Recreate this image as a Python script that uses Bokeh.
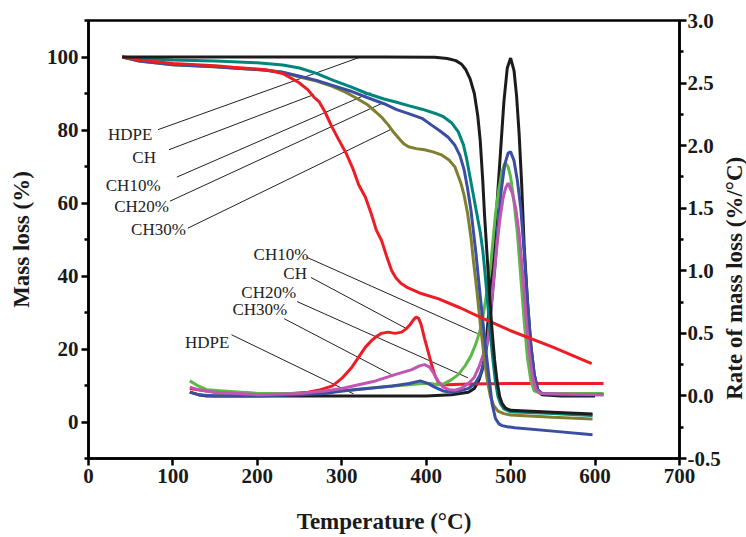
import math
from bokeh.plotting import figure
from bokeh.layouts import row
from bokeh.models import Range1d, LinearAxis, FixedTicker, NumeralTickFormatter
from bokeh.embed import file_html
from bokeh.resources import INLINE
from bokeh.core.properties import value

# ---------------- data: TGA (mass %, left axis) ----------------
hdpe_tga_T = [40, 100, 150, 250, 350, 410, 425, 435, 442, 447, 452, 457, 461, 464, 467, 469, 472, 475, 478, 481, 484, 487, 490, 494, 500, 550, 597]
hdpe_tga_m = [100, 100, 100, 100, 100, 99.9, 99.6, 99, 98, 96.5, 94, 90, 84, 77, 66, 57, 46, 35, 25, 17, 11, 7, 5, 3.8, 3.2, 2.7, 2.2]

ch_tga_T = [40, 60, 100, 150, 171, 210, 230, 249, 260, 267, 273, 280, 288, 296, 305, 313, 320, 328, 335, 341, 347, 353, 359, 364, 370, 378, 386, 394, 414, 440, 465, 500, 550, 596]
ch_tga_m = [100, 99.2, 98.2, 97.6, 97.2, 96.5, 95.5, 93, 91, 89, 87.8, 85, 81, 77.5, 73.7, 69.5, 65, 61.6, 57, 52.5, 49.8, 45.5, 41.5, 39.5, 38, 36.8, 36, 35.2, 33.8, 31.3, 28.6, 25, 20.5, 16]

ch10_tga_T = [40, 60, 100, 150, 200, 230, 250, 270, 290, 310, 330, 350, 365, 380, 395, 410, 420, 430, 438, 444, 448, 452, 456, 460, 464, 467, 470, 473, 476, 479, 482, 485, 488, 492, 500, 550, 597]
ch10_tga_m = [100, 99.6, 99.2, 98.9, 98.4, 97.8, 97, 95.5, 93.6, 91.9, 90, 88.5, 87.6, 86.6, 85.7, 84.6, 83.7, 82, 79.5, 76, 72, 67, 62, 57, 52, 47, 40, 32, 24, 17, 11, 7, 5, 3.6, 2.8, 2.3, 1.8]

ch20_tga_T = [40, 60, 100, 150, 171, 210, 230, 249, 270, 288, 310, 330, 350, 365, 380, 395, 406, 416, 426, 434, 440, 445, 449, 453, 456, 459, 462, 466, 470, 474, 478, 482, 486, 490, 496, 505, 550, 597]
ch20_tga_m = [100, 98.9, 97.9, 97.3, 97, 96.4, 95.8, 94.8, 93.6, 92.3, 90.7, 88.9, 87.2, 85.6, 84.4, 83.2, 81.4, 79.8, 78, 75.8, 73, 69, 64, 58, 52, 46, 39, 30, 21, 13, 5, 1, -0.5, -1, -1.3, -1.6, -2.5, -3.5]

ch30_tga_T = [40, 60, 100, 150, 171, 210, 230, 249, 270, 288, 305, 316, 330, 340, 348, 355, 361, 367, 373, 379, 388, 398, 408, 418, 427, 434, 441, 445, 449, 453, 456, 460, 464, 468, 472, 476, 480, 485, 492, 500, 550, 597]
ch30_tga_m = [100, 98.9, 97.9, 97.3, 97, 96.4, 95.8, 94.6, 93.4, 92, 90.3, 88.9, 87, 85, 83.3, 81.4, 79.5, 77.9, 76.3, 75.4, 74.9, 74.6, 74, 73.2, 71.8, 69.9, 65.5, 62, 57.2, 50.5, 44, 36, 27, 19, 12, 7, 4.5, 3, 2.3, 1.9, 1.3, 0.8]

# ---------------- data: DTG (%/oC, right axis) ----------------
hdpe_dtg_T = [120, 130, 140, 200, 300, 400, 430, 440, 450, 457, 462, 466, 469, 472, 476, 480, 484, 488, 492, 496, 500, 504, 507, 510, 513, 516, 520, 524, 528, 532, 537, 560, 600]
hdpe_dtg_r = [0.03, 0.01, 0.0, 0.0, 0.0, 0.0, 0.01, 0.02, 0.03, 0.06, 0.12, 0.2, 0.3, 0.5, 0.82, 1.18, 1.55, 1.95, 2.35, 2.62, 2.70, 2.6, 2.4, 2.1, 1.7, 1.2, 0.75, 0.4, 0.17, 0.05, 0.01, 0.0, 0.0]

ch_dtg_T = [120, 130, 150, 200, 240, 260, 275, 289, 300, 312, 320, 328, 335, 340, 347, 355, 363, 371, 377, 381, 385, 388, 391, 394, 398, 402, 406, 410, 414, 418, 425, 450, 500, 550, 610]
ch_dtg_r = [0.06, 0.05, 0.03, 0.02, 0.02, 0.03, 0.05, 0.08, 0.14, 0.23, 0.31, 0.39, 0.44, 0.47, 0.5, 0.51, 0.5, 0.51, 0.54, 0.57, 0.61, 0.63, 0.62, 0.57, 0.46, 0.36, 0.26, 0.17, 0.11, 0.09, 0.09, 0.095, 0.1, 0.1, 0.1]

ch10_dtg_T = [120, 130, 140, 160, 200, 250, 280, 300, 330, 360, 380, 395, 405, 415, 422, 430, 438, 446, 453, 459, 465, 470, 476, 482, 486, 489, 492, 494, 497, 500, 504, 508, 512, 516, 520, 524, 528, 535, 610]
ch10_dtg_r = [0.12, 0.08, 0.05, 0.04, 0.02, 0.02, 0.03, 0.04, 0.06, 0.08, 0.09, 0.1, 0.1, 0.09, 0.1, 0.13, 0.17, 0.24, 0.32, 0.42, 0.55, 0.75, 1.02, 1.45, 1.65, 1.77, 1.84, 1.86, 1.83, 1.75, 1.55, 1.3, 0.95, 0.6, 0.3, 0.12, 0.04, 0.02, 0.02]

ch20_dtg_T = [120, 130, 150, 200, 250, 280, 300, 330, 360, 380, 393, 402, 410, 420, 430, 440, 450, 458, 464, 469, 473, 477, 481, 485, 489, 493, 497, 500, 504, 508, 512, 516, 520, 524, 528, 532, 537, 560, 610]
ch20_dtg_r = [0.03, 0.01, 0.0, 0.0, 0.01, 0.02, 0.04, 0.06, 0.08, 0.1, 0.12, 0.1, 0.07, 0.04, 0.03, 0.04, 0.06, 0.1, 0.17, 0.28, 0.45, 0.7, 1.0, 1.35, 1.65, 1.85, 1.94, 1.95, 1.88, 1.72, 1.5, 1.15, 0.75, 0.4, 0.17, 0.05, 0.02, 0.01, 0.01]

ch30_dtg_T = [120, 130, 150, 200, 250, 280, 300, 320, 340, 363, 383, 392, 398, 404, 409, 414, 420, 427, 434, 441, 450, 457, 463, 469, 473, 479, 483, 487, 491, 494, 497, 502, 506, 510, 514, 518, 522, 526, 530, 535, 610]
ch30_dtg_r = [0.07, 0.05, 0.03, 0.01, 0.02, 0.04, 0.06, 0.09, 0.12, 0.17, 0.21, 0.24, 0.25, 0.23, 0.18, 0.12, 0.07, 0.05, 0.045, 0.06, 0.1, 0.15, 0.24, 0.36, 0.44, 0.87, 1.15, 1.4, 1.58, 1.66, 1.70, 1.62, 1.5, 1.3, 1.0, 0.65, 0.35, 0.15, 0.05, 0.02, 0.01]

# ---------------- axis ticks ----------------
x_ticks = [0, 100, 200, 300, 400, 500, 600, 700]
left_ticks = [0, 20, 40, 60, 80, 100]
left_minor = [-10, 10, 30, 50, 70, 90, 110]
right_ticks = [-0.5, 0.0, 0.5, 1.0, 1.5, 2.0, 2.5, 3.0]
right_minor = [-0.25, 0.25, 0.75, 1.25, 1.75, 2.25, 2.75]
right_title = "Rate of mass loss (%/°C)"

# ---------------- annotation labels (layout, in T / mass% coordinates) ----------------
tga_labels = ["HDPE", "CH", "CH10%", "CH20%", "CH30%"]
tga_label_xy = [(49.4, 78.8), (65.9, 72.4), (52.9, 64.9), (62.9, 59.1), (82.9, 52.8)]
tga_lead = [((82.4, 80.1), (323.5, 100.1)), ((95.3, 74.6), (267, 89.7)), ((104.7, 67.1), (334, 90.2)),
            ((96.5, 60.5), (349.4, 87.5)), ((117.6, 53.1), (357.6, 80.1))]

dtg_labels = ["CH10%", "CH", "CH20%", "CH30%", "HDPE"]
dtg_label_xy = [(228, 45.9), (244.7, 40.7), (213.5, 35.5), (203, 30.8), (140.6, 21.7)]
dtg_lead = [((258.8, 45.1), (461, 24.2)), ((263.5, 39.6), (376.5, 25.6)), ((247, 33), (449.4, 12.1)),
            ((231.8, 28.3), (361, 12.7)), ((169.4, 23.9), (314, 7.7))]

# ---------------- figure ----------------
FONT = "Liberation Serif"
W_MAIN, W_SIDE, H = 723, 23, 537
p = figure(width=W_MAIN, height=H, output_backend="svg", toolbar_location=None,
           x_range=Range1d(0, 700), y_range=Range1d(-10, 110),
           min_border_left=88, min_border_right=40, min_border_top=20, min_border_bottom=79)
p.extra_y_ranges = {"dtg": Range1d(-0.5, 3.0)}
p.grid.visible = False
p.outline_line_color = "black"
p.outline_line_width = 2.5
p.background_fill_color = "white"
p.border_fill_color = "white"

def style_axis(ax, ticks, minor):
    ax.ticker = FixedTicker(ticks=ticks, minor_ticks=minor)
    ax.axis_line_width = 2.5
    ax.axis_line_color = "black"
    ax.major_tick_line_width = 2.5
    ax.minor_tick_line_width = 2.5
    ax.major_tick_out = 7
    ax.major_tick_in = 0
    ax.minor_tick_out = 4
    ax.minor_tick_in = 0
    ax.major_label_text_font = FONT
    ax.major_label_text_font_style = "bold"
    ax.major_label_text_font_size = "21px"
    ax.major_label_text_color = "#1a1a1a"
    ax.axis_label_text_font = FONT
    ax.axis_label_text_font_style = "bold"
    ax.axis_label_text_font_size = "23px"
    ax.axis_label_text_color = "#1a1a1a"
    ax.major_label_standoff = 3

style_axis(p.xaxis[0], x_ticks, [])
p.xaxis[0].minor_tick_line_color = None
p.xaxis[0].axis_label = "Temperature (°C)"
p.xaxis[0].axis_label_standoff = 23

style_axis(p.yaxis[0], left_ticks, left_minor)
p.yaxis[0].axis_label = "Mass loss (%)"
p.yaxis[0].axis_label_standoff = 10

ry = LinearAxis(y_range_name="dtg")
style_axis(ry, right_ticks, right_minor)
ry.formatter = NumeralTickFormatter(format="0.0")
ry.major_label_standoff = 1
p.add_layout(ry, "right")

# annotation leader lines and labels
for (s, e) in tga_lead + dtg_lead:
    p.line([s[0], e[0]], [s[1], e[1]], line_color="#222222", line_width=1)
for lbl, (tx, ty) in list(zip(tga_labels, tga_label_xy)) + list(zip(dtg_labels, dtg_label_xy)):
    p.text(x=[tx], y=[ty], text=[lbl], text_font=value(FONT), text_font_size="17px",
           text_align="center", text_baseline="middle", text_color="#222222")

LW = 3
# DTG curves
p.line(hdpe_dtg_T, hdpe_dtg_r, y_range_name="dtg", line_color="#1c1c1c", line_width=LW)
p.line(ch_dtg_T, ch_dtg_r, y_range_name="dtg", line_color="#ee1c25", line_width=LW)
p.line(ch10_dtg_T, ch10_dtg_r, y_range_name="dtg", line_color="#5cb947", line_width=LW)
p.line(ch20_dtg_T, ch20_dtg_r, y_range_name="dtg", line_color="#3b4ea3", line_width=LW)
p.line(ch30_dtg_T, ch30_dtg_r, y_range_name="dtg", line_color="#c155b1", line_width=LW)

# TGA curves
p.line(ch30_tga_T, ch30_tga_m, line_color="#7f7f30", line_width=LW)
p.line(ch20_tga_T, ch20_tga_m, line_color="#3b4ea3", line_width=LW)
p.line(ch10_tga_T, ch10_tga_m, line_color="#00857d", line_width=LW)
p.line(ch_tga_T, ch_tga_m, line_color="#ee1c25", line_width=LW)
p.line(hdpe_tga_T, hdpe_tga_m, line_color="#1c1c1c", line_width=LW)

# side strip holding the right-axis title (reads bottom to top)
side = figure(width=W_SIDE, height=H, output_backend="svg", toolbar_location=None,
              x_range=Range1d(0, W_SIDE), y_range=Range1d(0, H),
              min_border=0, min_border_left=0, min_border_right=0, min_border_top=0, min_border_bottom=0)
side.axis.visible = False
side.grid.visible = False
side.outline_line_color = None
side.background_fill_color = "white"
side.border_fill_color = "white"
side.text(x=[W_SIDE / 2 - 1], y=[H - 316], text=[right_title], angle=math.pi / 2,
          text_font=value(FONT), text_font_style="bold", text_font_size="23px",
          text_align="center", text_baseline="middle", text_color="#1a1a1a")

layout = row(p, side, spacing=0)
open("out.html", "w").write(file_html(layout, INLINE))
